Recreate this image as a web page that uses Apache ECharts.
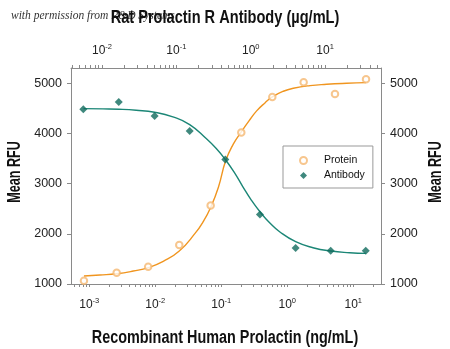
<!DOCTYPE html>
<html>
<head>
<meta charset="utf-8">
<script src="https://cdn.jsdelivr.net/npm/echarts@6/dist/echarts.min.js"></script>
<style>
  html, body { margin: 0; padding: 0; background: #fff; }
  #chart { width: 450px; height: 349px; }
</style>
</head>
<body>
<div id="chart"></div>
<script>
// Recombinant human prolactin (ng/mL) vs. mean RFU
const proteinConc = [0.00083, 0.0026, 0.0078, 0.0231, 0.069, 0.201, 0.593, 1.77, 5.28, 15.6];
const proteinRFU  = [1066, 1225, 1344, 1775, 2565, 4016, 4724, 5016, 4783, 5076];

// Fitted dose-response curve for the protein
const proteinFitConc = [0.00083, 0.00145, 0.0026, 0.00465, 0.00784, 0.0132, 0.0231, 0.040, 0.0535, 0.069,
                        0.0902, 0.1165, 0.152, 0.201, 0.263, 0.3435, 0.459, 0.593, 0.871, 1.234,
                        2.21, 3.95, 7.94, 15.6];
const proteinFitRFU  = [1159, 1179, 1205, 1258, 1325, 1451, 1656, 2007, 2246, 2524,
                        2922, 3452, 3783, 4028, 4247, 4446, 4605, 4724, 4837, 4897,
                        4950, 4976, 4996, 5009];

// Rat prolactin R antibody (µg/mL) vs. mean RFU
const antibodyConc = [0.0056, 0.0168, 0.051, 0.151, 0.455, 1.33, 4.02, 11.9, 35.2];
const antibodyRFU  = [4479, 4624, 4346, 4048, 3479, 2386, 1716, 1662, 1662];

// Fitted neutralization curve for the antibody
const antibodyFitConc = [0.00564, 0.0103, 0.0169, 0.0288, 0.0509, 0.0898, 0.151, 0.252, 0.344, 0.455,
                         0.607, 0.785, 1.018, 1.331, 1.796, 2.447, 4.02, 6.88, 11.9, 21.4, 35.2];
const antibodyFitRFU  = [4492, 4486, 4479, 4459, 4419, 4327, 4174, 3896, 3697, 3479,
                         3213, 2935, 2670, 2438, 2219, 2040, 1842, 1722, 1656, 1623, 1610];

// Axis decades (powers of ten) and RFU tick labels
const bottomDecades = [-3, -2, -1, 0, 1];
const topDecades = [-2, -1, 0, 1];
const rfuTicks = [1000, 2000, 3000, 4000, 5000];

const log = v => Math.log10(v);
const pairs = (xs, ys) => xs.map((x, i) => [log(x), ys[i]]);

// tick positions (k × 10^n, k = 1..9) inside a log range
function logTicks(lo, hi) {
  const out = [];
  for (let n = Math.floor(lo) - 1; n <= Math.ceil(hi); n++) {
    for (let k = 1; k <= 9; k++) {
      const p = n + Math.log10(k);
      if (p >= lo - 1e-9 && p <= hi + 1e-9) out.push(p);
    }
  }
  return out;
}

const FONT = '"Liberation Sans", Arial, sans-serif';
const AXIS_GREY = '#8a8a8a';
const ORANGE = '#f0951f';
const ORANGE_PT = '#f5b872';
const TEAL = '#1b8676';
const TEAL_PT = '#0f6a5d';

const bottomRange = [-3.277, 1.42];
const topRange = [-2.417, 1.752];

const supRich = {
  b: { fontFamily: FONT, fontSize: 12, color: '#222', verticalAlign: 'bottom' },
  s: { fontFamily: FONT, fontSize: 7.5, color: '#222', verticalAlign: 'bottom', padding: [0, 0, 6, 0] }
};
const powerLabel = v => '{b|10}{s|' + Math.round(v) + '}';

function logAxis(range, decades, position, margin) {
  return {
    type: 'value',
    position: position,
    min: range[0],
    max: range[1],
    axisLine: { show: true, onZero: false, lineStyle: { color: AXIS_GREY, width: 1 } },
    axisTick: { show: true, inside: false, length: 3, customValues: logTicks(range[0], range[1]),
                lineStyle: { color: AXIS_GREY } },
    axisLabel: { show: true, margin: margin, customValues: decades, formatter: powerLabel, rich: supRich },
    splitLine: { show: false }
  };
}

function rfuAxis(position) {
  return {
    type: 'value',
    position: position,
    min: 1000,
    max: 5300,
    axisLine: { show: true, onZero: false, lineStyle: { color: AXIS_GREY, width: 1 } },
    axisTick: { show: true, length: 4, customValues: rfuTicks, lineStyle: { color: AXIS_GREY } },
    axisLabel: { show: true, margin: 9, customValues: rfuTicks, formatter: v => String(v),
                 fontFamily: FONT, fontSize: 12.5, color: '#222' },
    splitLine: { show: false }
  };
}

// bold condensed-looking title text
function title(text, x, y, squeeze, rotation) {
  return {
    type: 'text',
    x: x, y: y,
    rotation: rotation || 0,
    scaleX: squeeze,
    z: 10,
    style: { text: text, fontFamily: FONT, fontWeight: 'bold', fontSize: 18, fill: '#111',
             align: 'center', verticalAlign: 'middle' }
  };
}

const chart = echarts.init(document.getElementById('chart'), null, { renderer: 'canvas' });

chart.setOption({
  animation: false,
  backgroundColor: '#fff',
  grid: { left: 71, right: 69, top: 68, bottom: 65, containLabel: false },
  graphic: [
    {
      type: 'text',
      x: 11, y: 16,
      z: 1,
      style: { text: 'with permission from R&D Systems', fontFamily: '"Liberation Serif", "DejaVu Serif", serif',
               fontStyle: 'italic', fontSize: 11.5, fill: '#333', align: 'left', verticalAlign: 'middle' }
    },
    title('Rat Prolactin R Antibody (µg/mL)', 225, 18, 0.81, 0),
    title('Recombinant Human Prolactin (ng/mL)', 225, 338, 0.8, 0),
    title('Mean RFU', 15, 172, 0.7, Math.PI / 2),
    title('Mean RFU', 436, 172, 0.7, Math.PI / 2)
  ],
  xAxis: [
    logAxis(bottomRange, bottomDecades, 'bottom', 13),
    logAxis(topRange, topDecades, 'top', 11)
  ],
  yAxis: [rfuAxis('left'), rfuAxis('right')],
  legend: {
    data: ['Protein', 'Antibody'],
    orient: 'vertical',
    left: 283,
    top: 146,
    padding: [9, 8, 7, 16],
    itemWidth: 7,
    itemHeight: 7,
    itemGap: 4,
    borderColor: '#999',
    borderWidth: 1,
    formatter: '{t|{name}}',
    textStyle: {
      fontFamily: FONT, fontSize: 10.5, color: '#111',
      rich: { t: { fontFamily: FONT, fontSize: 10.5, color: '#111', padding: [0, 0, 0, 12] } }
    }
  },
  series: [
    {
      name: 'Protein fit',
      type: 'line',
      xAxisIndex: 0, yAxisIndex: 0,
      data: pairs(proteinFitConc, proteinFitRFU),
      smooth: true,
      showSymbol: false,
      lineStyle: { color: ORANGE, width: 1.4 },
      z: 2
    },
    {
      name: 'Antibody fit',
      type: 'line',
      xAxisIndex: 1, yAxisIndex: 0,
      data: pairs(antibodyFitConc, antibodyFitRFU),
      smooth: true,
      showSymbol: false,
      lineStyle: { color: TEAL, width: 1.4 },
      z: 2
    },
    {
      name: 'Protein',
      type: 'scatter',
      xAxisIndex: 0, yAxisIndex: 0,
      data: pairs(proteinConc, proteinRFU),
      symbol: 'emptyCircle',
      symbolSize: 6.5,
      itemStyle: { color: ORANGE_PT, borderWidth: 0.9 },
      z: 3
    },
    {
      name: 'Antibody',
      type: 'scatter',
      xAxisIndex: 1, yAxisIndex: 0,
      data: pairs(antibodyConc, antibodyRFU),
      symbol: 'diamond',
      symbolSize: 8,
      itemStyle: { color: TEAL_PT },
      z: 3
    }
  ]
});
</script>
</body>
</html>
